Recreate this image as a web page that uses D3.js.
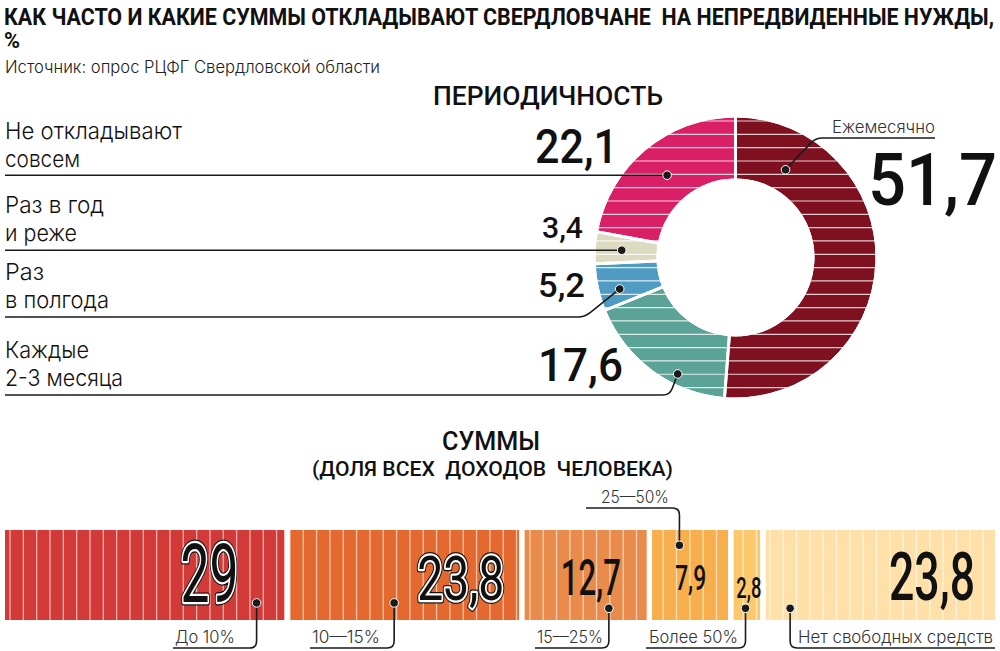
<!DOCTYPE html>
<html>
<head>
<meta charset="utf-8">
<script src="https://cdn.jsdelivr.net/npm/d3@7"></script>
<style>
  body { margin: 0; background: #fff; }
  svg { font-family: Roboto, "DejaVu Sans", sans-serif; }
  text { white-space: pre; }
  .light { font-family: Inter, Roboto, sans-serif; font-weight: 300; }
</style>
</head>
<body>
<script>
// --- data: periodicity (donut) ---
var freqNames = [["Ежемесячно"], ["Каждые", "2-3 месяца"], ["Раз", "в полгода"], ["Раз в год", "и реже"], ["Не откладывают", "совсем"]];
var freqValues = [51.7, 17.6, 5.2, 3.4, 22.1];
var freqText = ["51,7", "17,6", "5,2", "3,4", "22,1"];
var freqColors = ["#7e1020", "#5aa396", "#4f9bc1", "#dddac2", "#d91f66"];

// --- data: sums (stacked bar) ---
var sumNames = ["До 10%", "10—15%", "15—25%", "25—50%", "Более 50%", "Нет свободных средств"];
var sumValues = [29, 23.8, 12.7, 7.9, 2.8, 23.8];
var sumText = ["29", "23,8", "12,7", "7,9", "2,8", "23,8"];
var sumColors = ["#d23a37", "#e3692f", "#e98b4a", "#f7af4e", "#fcc86c", "#fee0a8"];

var width = 1000, height = 651;
var ink = "#1a1a1a";

var svg = d3.select("body").append("svg").attr("width", width).attr("height", height);

function label(g, s, x, y, size, len, opts) {
  opts = opts || {};
  var t = g.append("text")
    .attr("x", x).attr("y", y)
    .attr("font-size", size)
    .attr("fill", opts.fill || ink)
    .attr("text-anchor", opts.anchor || "start")
    .text(s);
  if (opts.light) t.attr("class", "light");
  else t.attr("font-weight", opts.weight || 400);
  if (len) t.attr("textLength", len).attr("lengthAdjust", "spacingAndGlyphs");
  return t;
}

// elbow leader: slanted part from the dot, rounded corner, then horizontal run
function leader(dot, lineY, cornerX, endX) {
  var p = d3.path();
  p.moveTo(dot[0], dot[1]);
  var dy = lineY - dot[1];
  if (Math.abs(dy) < 2) { p.lineTo(endX, dot[1]); return p.toString(); }
  var dx = cornerX - dot[0];
  var k = 7 / Math.hypot(dx, dy);
  var dir = endX > cornerX ? 1 : -1;
  p.lineTo(cornerX - dx * k, lineY - dy * k);
  p.quadraticCurveTo(cornerX, lineY, cornerX + dir * 7, lineY);
  p.lineTo(endX, lineY);
  return p.toString();
}

function dotMark(g, pt) {
  g.append("circle").attr("cx", pt[0]).attr("cy", pt[1]).attr("r", 4.3)
    .attr("fill", ink).attr("stroke", "#fff").attr("stroke-width", 1);
}

// titles
label(svg, "КАК ЧАСТО И КАКИЕ СУММЫ ОТКЛАДЫВАЮТ СВЕРДЛОВЧАНЕ  НА НЕПРЕДВИДЕННЫЕ НУЖДЫ,", 4, 25, 24, 990, { weight: 700, fill: "#111" });
label(svg, "%", 4, 48, 22, 16, { weight: 700, fill: "#111" });
label(svg, "Источник: опрос РЦФГ Свердловской области", 5, 73, 17, 375, { light: true, fill: "#222" });
label(svg, "ПЕРИОДИЧНОСТЬ", 433, 105, 26, 230, { weight: 500, fill: "#111" });
label(svg, "СУММЫ", 442, 450, 26, 98, { weight: 500, fill: "#111" });
label(svg, "(ДОЛЯ ВСЕХ  ДОХОДОВ  ЧЕЛОВЕКА)", 312, 476, 21, 361, { weight: 500, fill: "#111" });

// ---------- donut ----------
var cx = 735.5, cy = 257.5, rOut = 140, rIn = 79;
var pie = d3.pie().sort(null).padAngle(0.018);
var arc = d3.arc().innerRadius(rIn).outerRadius(rOut);
var slices = pie(freqValues);

var gDonut = svg.append("g");
var clip = svg.append("clipPath").attr("id", "donutClip");
clip.selectAll("path").data(slices).enter().append("path")
  .attr("transform", "translate(" + cx + "," + cy + ")")
  .attr("d", arc);

var gd = gDonut.append("g").attr("clip-path", "url(#donutClip)");
gd.selectAll("path").data(slices).enter().append("path")
  .attr("transform", "translate(" + cx + "," + cy + ")")
  .attr("d", arc)
  .attr("fill", function (d, i) { return freqColors[i]; });
gd.selectAll("line").data(d3.range(cy - rOut + 3.5, cy + rOut, 13.33)).enter().append("line")
  .attr("x1", cx - rOut).attr("x2", cx + rOut)
  .attr("y1", function (d) { return d; }).attr("y2", function (d) { return d; })
  .attr("stroke", "rgba(255,255,255,0.8)").attr("stroke-width", 1.2);

// annotation layout for slices
var freqDotF = [0.161, 0.345, 0.35, 0.475, 0.5];
var freqDotR = [101, 130, 120, 114, 107];
var freqLineY = [138, 395, 317, 250, 176];
var freqCornerDx = [30, -8, -35, 0, 0];
var freqEndX = [935, 5, 5, 5, 5];
var freqNameW = [[103], [84, 118], [39, 104], [99, 72], [177, 75]];
var freqValX = [997, 623, 585, 583, 618];
var freqValY = [205, 381, 297, 238, 163];
var freqValSize = [72, 46, 34, 30, 49];
var freqValW = [129, 85, 47, 41, 83];

var gAnn = svg.append("g");
slices.forEach(function (s, i) {
  var a = s.startAngle + freqDotF[i] * (s.endAngle - s.startAngle);
  var pt = [cx + freqDotR[i] * Math.sin(a), cy - freqDotR[i] * Math.cos(a)];
  gAnn.append("path")
    .attr("d", leader(pt, freqLineY[i], pt[0] + freqCornerDx[i], freqEndX[i]))
    .attr("fill", "none").attr("stroke", ink).attr("stroke-width", 1.6);
  dotMark(gAnn, pt);

  if (i === 0) {
    label(gAnn, freqNames[i][0], freqEndX[i], freqLineY[i] - 5, 17, freqNameW[i][0], { anchor: "end", light: true, fill: "#333" });
  } else {
    label(gAnn, freqNames[i][0], 5, freqLineY[i] - 37, 23, freqNameW[i][0], { light: true, fill: "#111" });
    label(gAnn, freqNames[i][1], 5, freqLineY[i] - 9, 23, freqNameW[i][1], { light: true, fill: "#111" });
  }
  label(gAnn, freqText[i], freqValX[i], freqValY[i], freqValSize[i], freqValW[i], { anchor: "end", weight: 500, fill: "#111" });
});

// ---------- stacked bar ----------
var barY = 530, barH = 90, gap = 5.2, x0 = 5;
var x = d3.scaleLinear().domain([0, d3.sum(sumValues)]).range([0, 990 - gap * (sumValues.length - 1)]);
var cum = 0;
var segs = sumValues.map(function (v, i) {
  var s = { x: x0 + x(cum) + i * gap, w: x(v), v: v, i: i };
  cum += v;
  return s;
});

var bclip = svg.append("clipPath").attr("id", "barClip");
bclip.selectAll("rect").data(segs).enter().append("rect")
  .attr("x", function (d) { return d.x; }).attr("y", barY)
  .attr("width", function (d) { return d.w; }).attr("height", barH);

var gb = svg.append("g").attr("clip-path", "url(#barClip)");
gb.selectAll("rect").data(segs).enter().append("rect")
  .attr("x", function (d) { return d.x; }).attr("y", barY)
  .attr("width", function (d) { return d.w; }).attr("height", barH)
  .attr("fill", function (d) { return sumColors[d.i]; });
gb.selectAll("line").data(d3.range(10, 1000, 13.33)).enter().append("line")
  .attr("x1", function (d) { return d; }).attr("x2", function (d) { return d; })
  .attr("y1", barY).attr("y2", barY + barH)
  .attr("stroke", "rgba(255,255,255,0.6)").attr("stroke-width", 1.3);

// annotation layout for segments
var sumDotF = [0.9, 0.455, 0.69, 0.36, 0.45, 0.107];
var sumDotY = [0.81, 0.81, 0.87, 0.17, 0.87, 0.87];
var sumLineY = [648, 648, 648, 508, 648, 648];
var sumEndX = [173, 310, 535, 586, 646, 995];
var sumLabX = [175, 312, 537, 601, 649, 798];
var sumLabW = [60, 68, 66, 68, 89, 195];
var sumNumPad = [46, 15, 26, 22, -1, 20];
var sumNumSize = [82, 62, 50, 35, 29, 66];
var sumNumY = [602, 600, 595, 590, 598, 600];
var sumNumW = [58, 87, 60, 31, 25, 86];
var sumOutline = [true, true, false, false, false, false];

var gB = svg.append("g");
segs.forEach(function (s, i) {
  var nx = s.x + s.w - sumNumPad[i];
  if (sumOutline[i]) {
    label(gB, sumText[i], nx, sumNumY[i], sumNumSize[i], sumNumW[i], { anchor: "end", weight: 400, fill: "#111" })
      .attr("stroke", "#111").attr("stroke-width", 7).attr("stroke-linejoin", "round");
    label(gB, sumText[i], nx, sumNumY[i], sumNumSize[i], sumNumW[i], { anchor: "end", weight: 400, fill: "#111" })
      .attr("stroke", "#fff").attr("stroke-width", 4.5).attr("stroke-linejoin", "round");
  }
  label(gB, sumText[i], nx, sumNumY[i], sumNumSize[i], sumNumW[i], { anchor: "end", weight: sumOutline[i] ? 400 : 500, fill: "#111" });

  var pt = [s.x + sumDotF[i] * s.w, barY + sumDotY[i] * barH];
  gB.append("path")
    .attr("d", leader(pt, sumLineY[i], pt[0], sumEndX[i]))
    .attr("fill", "none").attr("stroke", ink).attr("stroke-width", 1.6);
  dotMark(gB, pt);
  label(gB, sumNames[i], sumLabX[i], sumLineY[i] - 5, 17, sumLabW[i], { light: true, fill: "#333" });
});
</script>
</body>
</html>
